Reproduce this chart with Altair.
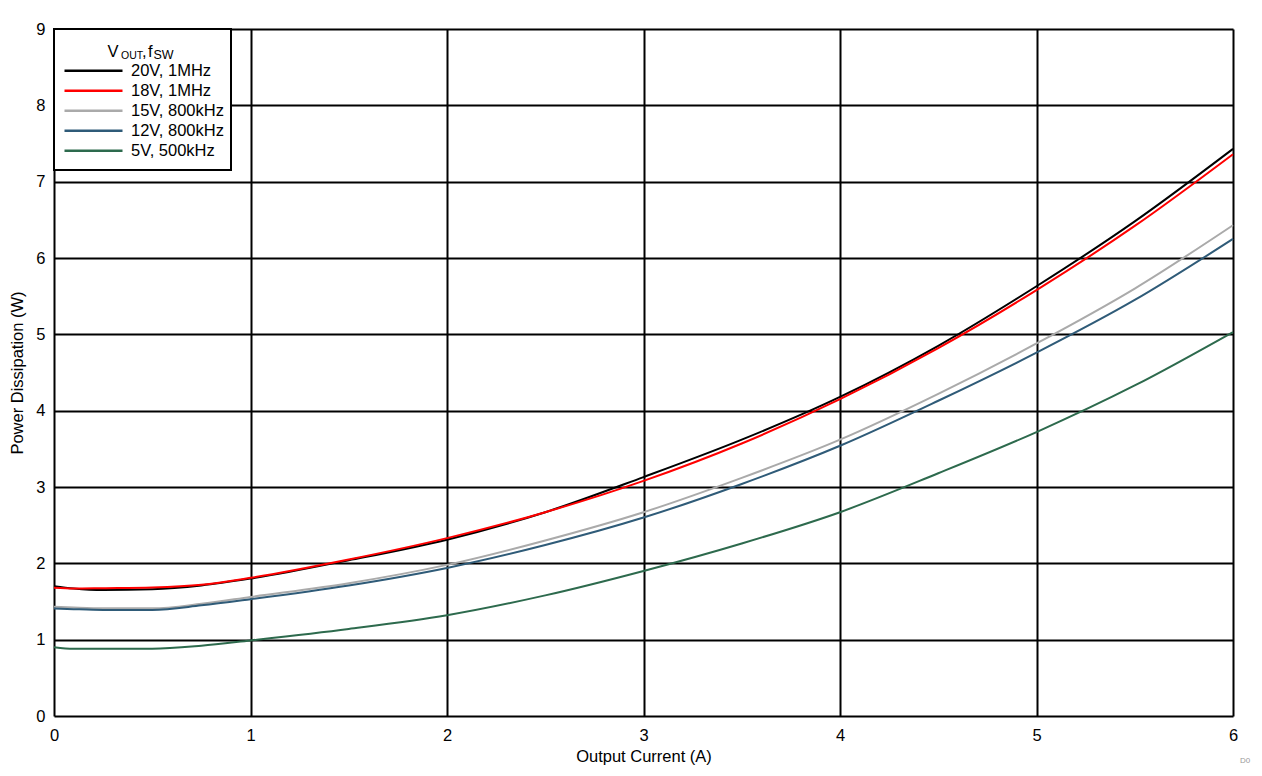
import altair as alt
import pandas as pd

current = [0, 0.1, 0.25, 0.5, 0.75, 1, 1.5, 2, 2.5, 3, 3.5, 4, 4.5, 5, 5.5, 6]
series = ["20V, 1MHz", "18V, 1MHz", "15V, 800kHz", "12V, 800kHz", "5V, 500kHz"]
p20 = [1.70, 1.67, 1.65, 1.66, 1.71, 1.80, 2.04, 2.31, 2.67, 3.13, 3.62, 4.18, 4.85, 5.63, 6.48, 7.43]
p18 = [1.68, 1.67, 1.675, 1.685, 1.72, 1.81, 2.05, 2.33, 2.67, 3.08, 3.57, 4.15, 4.82, 5.58, 6.42, 7.36]
p15 = [1.43, 1.42, 1.41, 1.41, 1.47, 1.56, 1.74, 1.98, 2.30, 2.67, 3.12, 3.62, 4.22, 4.88, 5.60, 6.43]
p12 = [1.41, 1.40, 1.39, 1.39, 1.45, 1.53, 1.71, 1.94, 2.24, 2.60, 3.04, 3.54, 4.13, 4.76, 5.45, 6.25]
p5 = [0.90, 0.88, 0.88, 0.88, 0.92, 0.99, 1.14, 1.32, 1.58, 1.90, 2.26, 2.67, 3.18, 3.72, 4.33, 5.03]
colors = ["#000000", "#ff0000", "#aaaaaa", "#2f5b78", "#2d6a4d"]
x_ticks = [0, 1, 2, 3, 4, 5, 6]
y_ticks = [0, 1, 2, 3, 4, 5, 6, 7, 8, 9]

FONT = "Liberation Sans"
FS = 16.5

rows = []
for name, vals in zip(series, [p20, p18, p15, p12, p5]):
    for xv, yv in zip(current, vals):
        rows.append({"series": name, "current": xv, "power": yv})
df = pd.DataFrame(rows)

W, H = 1179, 687

# legend box (decoration) drawn over grid
box = alt.Chart(pd.DataFrame({"a": [0]})).mark_rect(
    fill="white", stroke="black", strokeWidth=2
).encode(x=alt.value(0), x2=alt.value(177), y=alt.value(0), y2=alt.value(141))

lines = alt.Chart(df).mark_line(strokeWidth=2, interpolate="monotone").encode(
    x=alt.X("current:Q", scale=alt.Scale(domain=[0, 6], nice=False),
            axis=alt.Axis(values=x_ticks, title="Output Current (A)", format="d",
                          labelFlush=False,
                          titleX=W / 2, titleY=40, titleBaseline="middle")),
    y=alt.Y("power:Q", scale=alt.Scale(domain=[0, 9], nice=False),
            axis=alt.Axis(values=y_ticks, title="Power Dissipation (W)", format="d",
                          labelFlush=False,
                          titleX=-37, titleY=H / 2, titleBaseline="middle", titleAngle=-90,
                          titleAlign="center")),
    color=alt.Color("series:N", sort=series,
                    scale=alt.Scale(domain=series, range=colors),
                    legend=alt.Legend(title=None, orient="none", legendX=9, legendY=32,
                                      padding=0, symbolType="stroke", symbolSize=3364,
                                      symbolStrokeWidth=2.5, labelFontSize=FS, labelFont=FONT,
                                      labelColor="black", labelOffset=7, rowPadding=0,
                                      clipHeight=19.5)),
)

def txt(t, x, y, size, color="black"):
    return alt.Chart(pd.DataFrame({"t": [t]})).mark_text(
        align="left", baseline="alphabetic", font=FONT, fontSize=size, color=color
    ).encode(text="t:N", x=alt.value(x), y=alt.value(y))

title_parts = [
    txt("V", 53.5, 27.5, FS),
    txt("OUT", 67, 29.5, 10.5),
    txt(",", 88, 27.5, FS),
    txt("f", 94, 27.5, FS),
    txt("SW", 99.5, 29.5, 12.5),
]

mark_d0 = txt("D0", 1186, 734, 8, "#999999")

chart = alt.layer(box, lines, *title_parts, mark_d0).properties(
    width=W, height=H,
    autosize=alt.AutoSizeParams(type="none"),
    padding={"left": 46, "top": 21, "right": 21, "bottom": 52},
).configure_view(stroke=None).configure_axis(
    grid=True, gridColor="black", gridWidth=2, gridOpacity=1,
    domain=False, ticks=False,
    labelFont=FONT, labelFontSize=FS, labelColor="black",
    titleFont=FONT, titleFontSize=FS, titleFontWeight="normal", titleColor="black",
).configure_axisX(labelPadding=11).configure_axisY(labelPadding=9)

chart.save("out.html", embed_options={"renderer": "svg", "actions": False})
